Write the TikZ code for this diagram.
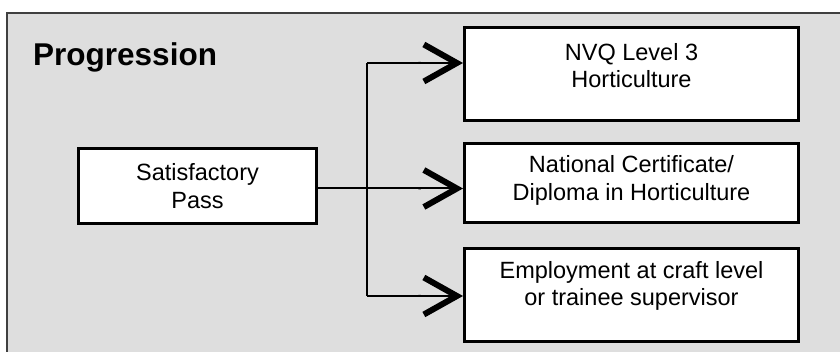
\documentclass[tikz,border=0pt]{standalone}
\usepackage{fontspec}
\setmainfont{Liberation Sans}
\usetikzlibrary{arrows.meta, calc}

\begin{document}
\begin{tikzpicture}[x=1pt, y=1pt, every node/.style={font=\fontsize{23.5}{27.5}\selectfont},
  box/.style={draw, line width=3pt, fill=white, align=center, inner sep=0pt},
  link/.style={line width=2pt},
  conn/.style={link, -{Butt Cap[] Straight Barb[length=33pt, width=37pt, line width'=6pt, sharp]}}]
  \useasboundingbox (0,0) rectangle (840,352);
  \fill[black!13] (7,0) rectangle (840,339);
  \draw[line width=2.5pt, black!75] (7,0) -- (7,339) -- (840,339);
  \node[font=\fontsize{31.5}{36}\selectfont\bfseries, anchor=base west, inner sep=0pt] (title) at (33,286) {Progression};
  \node[box, minimum width=238pt, minimum height=75pt] (pass) at (197.5,166) {Satisfactory\\Pass};
  \node[box, minimum width=334pt, minimum height=93pt, label={[yshift=8.5pt, align=center]center:{NVQ Level 3\\Horticulture}}] (nvq) at (631.5,278) {};
  \node[box, minimum width=334pt, minimum height=79pt, label={[yshift=2.5pt, align=center]center:{National Certificate/\\Diploma in Horticulture}}] (cert) at (631.5,169) {};
  \node[box, minimum width=334pt, minimum height=93pt, label={[yshift=9pt, align=center]center:{Employment at craft level\\or trainee supervisor}}] (employ) at (631.5,57) {};
  \coordinate (top) at (367,289);
  \coordinate (mid) at (367,163.5);
  \coordinate (bot) at (367,56);
  \draw[link] (top) -- (bot);
  \draw[conn] (top) -- (top -| nvq.west);
  \draw[conn] (pass.east |- mid) -- (mid -| cert.west);
  \draw[conn] (bot) -- (bot -| employ.west);
\end{tikzpicture}
\end{document}
